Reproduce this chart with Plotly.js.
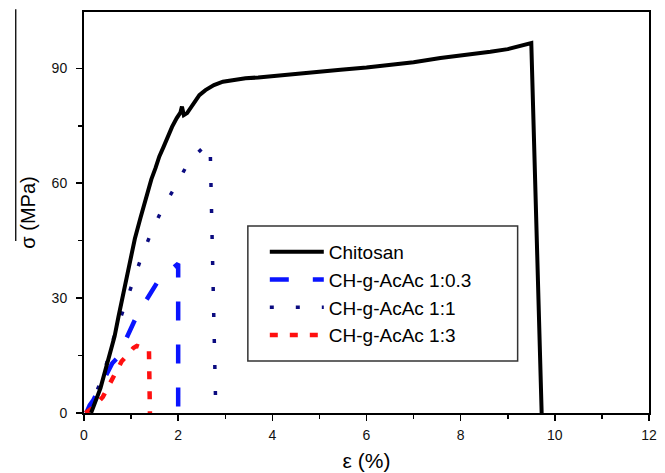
<!DOCTYPE html>
<html>
<head>
<meta charset="utf-8">
<script src="https://cdn.plot.ly/plotly-3.0.1.min.js"></script>
<style>html,body{margin:0;padding:0;background:#fff;}#chart{width:665px;height:473px;}</style>
</head>
<body>
<div id="chart"></div>
<script>
// Data (strain ε in %, stress σ in MPa)
const chitosanX = [0.15, 0.25, 0.35, 0.45, 0.56, 0.65, 0.73, 0.82, 0.92, 1.0, 1.08, 1.2, 1.34, 1.43, 1.52, 1.6, 1.69, 1.78, 1.87, 1.97, 2.05, 2.08, 2.12, 2.19, 2.33, 2.45, 2.58, 2.76, 2.95, 3.18, 3.43, 3.7, 4.0, 4.38, 4.9, 5.45, 6.0, 6.5, 7.0, 7.57, 8.1, 8.63, 9.0, 9.41, 9.5, 9.72];
const chitosanY = [0, 3, 6.5, 11, 15.7, 20, 25, 30.5, 36.5, 41, 45.5, 51, 57.4, 61, 64, 67, 69.5, 72.3, 74.7, 77, 78.5, 80, 77.8, 78.3, 81, 83, 84.3, 85.6, 86.5, 87, 87.4, 87.6, 87.9, 88.5, 89, 89.6, 90.2, 90.9, 91.6, 92.7, 93.4, 94.3, 95, 96.1, 96.6, 0];

const ac03X = [0.05, 0.12, 0.2, 0.35, 0.45, 0.52, 0.6, 0.71, 0.85, 0.99, 1.06, 1.13, 1.3, 1.45, 1.55, 1.67, 1.85, 2.0, 2.0];
const ac03Y = [0, 2, 3.4, 7, 9.5, 11.2, 13, 14.4, 18, 21.7, 24, 25.6, 29, 32, 34, 35.5, 37.5, 39, 0];

const ac1X = [0.05, 0.3, 0.48, 0.63, 0.82, 1.0, 1.2, 1.41, 1.67, 1.96, 2.22, 2.6, 2.68, 2.8];
const ac1Y = [0, 6.5, 13, 19.6, 26.4, 33, 40, 46.6, 53.5, 59.5, 65.5, 70.2, 69.5, 0];

const ac3X = [0.03, 0.1, 0.2, 0.4, 0.6, 0.8, 0.95, 1.05, 1.12, 1.2, 1.3, 1.38, 1.4];
const ac3Y = [0, 0.5, 1.5, 4.2, 9, 13.5, 15.5, 17, 17.5, 17, 16.7, 16.5, 0];

const seriesNames = ['Chitosan', 'CH-g-AcAc 1:0.3', 'CH-g-AcAc 1:1', 'CH-g-AcAc 1:3'];

const FONT = 'Liberation Sans, Arial, Helvetica, sans-serif';

const traces = [
  {x: ac03X, y: ac03Y, name: seriesNames[1], mode: 'lines', line: {color: '#0a14ff', width: 4.5, dash: '19px,24px'}, legendrank: 2},
  {x: ac1X, y: ac1Y, name: seriesNames[2], mode: 'lines', line: {color: '#0b0b80', width: 3.5, dash: '4px,22px'}, legendrank: 3},
  {x: ac3X, y: ac3Y, name: seriesNames[3], mode: 'lines', line: {color: '#ff1010', width: 4.5, dash: '8px,12px'}, legendrank: 4},
  {x: chitosanX, y: chitosanY, name: seriesNames[0], mode: 'lines', line: {color: '#000000', width: 4}, legendrank: 1}
];

const axisCommon = {
  showgrid: false, zeroline: false,
  showline: true, linecolor: '#000', linewidth: 2, mirror: true,
  ticks: 'outside', ticklen: 6, tickwidth: 1.5, tickcolor: '#000',
  tickfont: {family: FONT, size: 14, color: '#111'},
  fixedrange: true
};

const layout = {
  width: 665, height: 473,
  margin: {l: 84, r: 16, t: 12, b: 60},
  paper_bgcolor: '#fff', plot_bgcolor: '#fff',
  font: {family: FONT, color: '#000'},
  showlegend: true,
  xaxis: Object.assign({}, axisCommon, {
    range: [0, 12], tick0: 0, dtick: 2, ticklabelstandoff: 2,
    minor: {dtick: 1, ticks: 'outside', ticklen: 4, tickwidth: 1.5, tickcolor: '#000'},
    title: {text: 'ε (%)', font: {family: FONT, size: 21, color: '#000'}, standoff: 12}
  }),
  yaxis: Object.assign({}, axisCommon, {
    range: [0, 104.7], tick0: 0, dtick: 30, ticklabelstandoff: 6,
    minor: {dtick: 15, ticks: 'outside', ticklen: 4, tickwidth: 1.5, tickcolor: '#000'},
    title: {text: 'σ (MPa)', font: {family: FONT, size: 20, color: '#000'}, standoff: 11}
  }),
  legend: {
    x: 0.320, y: 0.449, xanchor: 'left', yanchor: 'top',
    bgcolor: 'rgba(0,0,0,0)', borderwidth: 0,
    font: {family: FONT, size: 19, color: '#000'},
    itemwidth: 54, traceorder: 'normal'
  },
  shapes: [
    {type: 'line', xref: 'paper', yref: 'paper', x0: -0.1208, x1: -0.1208, y0: 1.0067, y1: 0.429,
     line: {color: '#000', width: 1.3}},
    {type: 'rect', xref: 'paper', yref: 'paper', x0: 0.290, x1: 0.7675, y0: 0.1297, y1: 0.4663,
     fillcolor: '#fff', line: {color: '#333', width: 1.5}, layer: 'above'}
  ]
};

Plotly.newPlot('chart', traces, layout, {displayModeBar: false, staticPlot: true});
</script>
</body>
</html>
